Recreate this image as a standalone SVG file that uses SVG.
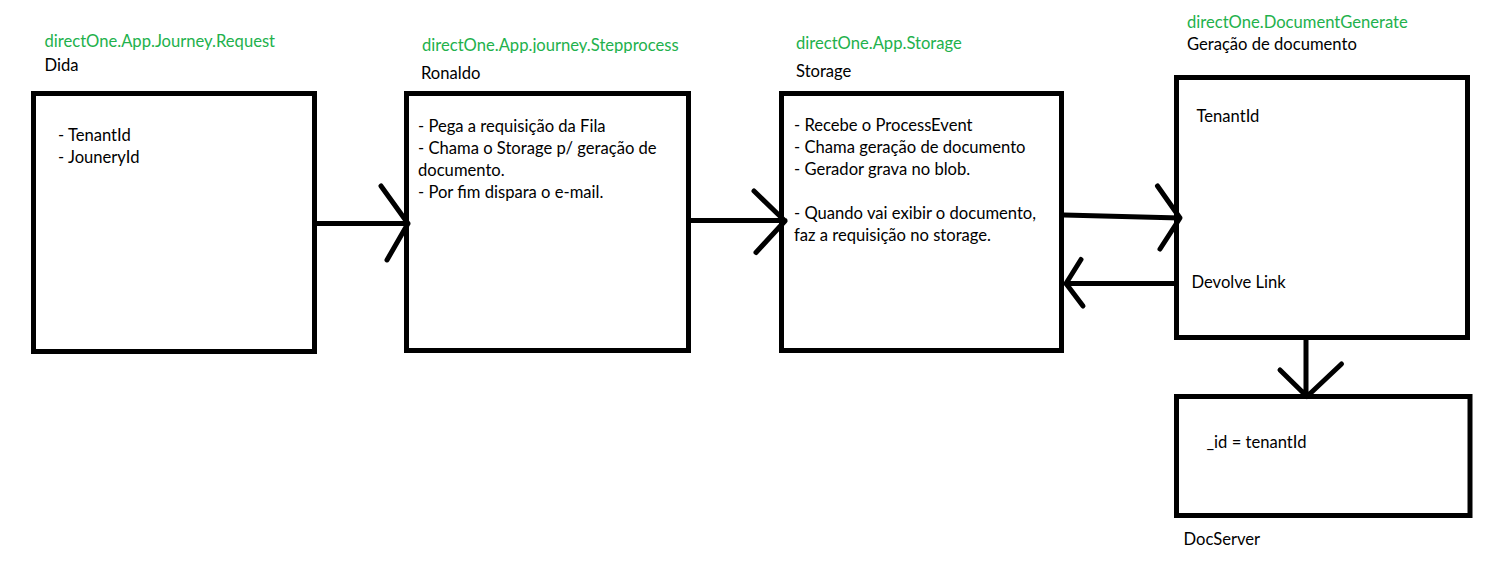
<svg xmlns="http://www.w3.org/2000/svg" width="1492" height="562" viewBox="0 0 1492 562">
<style>
.box{fill:#ffffff;stroke:#000000;stroke-width:5}
.ln{fill:none;stroke:#000000;stroke-width:5;stroke-linecap:round;stroke-linejoin:round}
text{font-family:Lato,"Open Sans","Liberation Sans",sans-serif;font-size:16.6px;fill:#000000}
.g{fill:#22b14c}
</style>
<defs>
<clipPath id="clipTitle2"><rect x="400" y="30" width="320" height="23"/></clipPath>
</defs>
<rect x="0" y="0" width="1492" height="562" fill="#ffffff"/>
<g id="node-request">
<text class="g" x="44.5" y="47">directOne.App.Journey.Request</text>
<text x="44.5" y="71">Dida</text>
<rect class="box" x="33.5" y="93.5" width="281" height="258"/>
<text x="58" y="141">- TenantId</text>
<text x="58" y="163">- JouneryId</text>
</g>
<g id="node-stepprocess">
<text class="g" x="422" y="51" clip-path="url(#clipTitle2)">directOne.App.journey.Stepprocess</text>
<text x="421" y="79">Ronaldo</text>
<rect class="box" x="406.5" y="93.5" width="282" height="257"/>
<text x="418" y="132">- Pega a requisição da Fila</text>
<text x="418" y="154">- Chama o Storage p/ geração de</text>
<text x="418" y="176">documento.</text>
<text x="418" y="198">- Por fim dispara o e-mail.</text>
</g>
<g id="node-storage">
<text class="g" x="796" y="49">directOne.App.Storage</text>
<text x="796" y="77">Storage</text>
<rect class="box" x="781.5" y="93.5" width="280" height="257"/>
<text x="794" y="131">- Recebe o ProcessEvent</text>
<text x="794" y="153">- Chama geração de documento</text>
<text x="794" y="175">- Gerador grava no blob.</text>
<text x="794" y="219">- Quando vai exibir o documento,</text>
<text x="794" y="241">faz a requisição no storage.</text>
</g>
<g id="node-documentgenerate">
<text class="g" x="1187" y="28">directOne.DocumentGenerate</text>
<text x="1187" y="50">Geração de documento</text>
<rect class="box" x="1176.5" y="77.5" width="291" height="260"/>
<text x="1196.5" y="122">TenantId</text>
<text x="1191.5" y="288">Devolve Link</text>
</g>
<g id="node-docserver">
<rect class="box" x="1176.5" y="396.5" width="293.5" height="119"/>
<text x="1206.5" y="448">_id = tenantId</text>
<text x="1183.5" y="545">DocServer</text>
</g>
<g id="connectors">
<path class="ln" d="M317 223.5 H408 M381 186 L408 223.5 L387 260"/>
<path class="ln" d="M691 220.5 H785 M754 191 L785 221 L756 252.5"/>
<path class="ln" d="M1064 215 L1180 218 M1157.5 186 L1180 218 L1160 249"/>
<path class="ln" d="M1174 283.5 H1066 M1081 259.5 L1066 283.5 L1083 306"/>
<path class="ln" d="M1306 340 V396 M1280 370 L1307 396.5 L1341.5 364"/>
</g>
</svg>
